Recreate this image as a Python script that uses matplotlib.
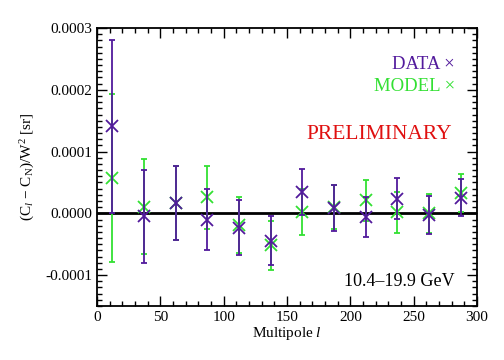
import matplotlib
matplotlib.use("Agg")
import matplotlib.pyplot as plt
from matplotlib.ticker import MultipleLocator, FormatStrFormatter

plt.rcParams['font.family'] = ['Liberation Serif', 'DejaVu Serif']
plt.rcParams['mathtext.fontset'] = 'custom'
plt.rcParams['mathtext.rm'] = 'Liberation Serif'
plt.rcParams['mathtext.it'] = 'Liberation Serif:italic'

# multipole bins
ell = [12, 37, 62, 87, 112, 137, 162, 187, 212, 237, 262, 287]

# data (units of 1e-4 sr)
data_val = [1.41, -0.05, 0.17, -0.10, -0.23, -0.44, 0.35, 0.09, -0.06, 0.24, -0.03, 0.25]
data_err = [1.40, 0.76, 0.60, 0.50, 0.45, 0.40, 0.37, 0.37, 0.33, 0.33, 0.31, 0.30]

# model
model_val = [0.58, 0.11, 0.17, 0.26, -0.19, -0.52, 0.02, 0.10, 0.21, 0.02, 0.00, 0.33]
model_err = [1.36, 0.77, 0.60, 0.51, 0.45, 0.40, 0.37, 0.36, 0.33, 0.33, 0.32, 0.31]

scale = 1e-4
purple = '#521a9c'
green = '#33e033'

fig = plt.figure(figsize=(5.04, 3.6), dpi=100)
ax = fig.add_axes([0.1925, 0.15, 0.754, 0.772])

ax.axhline(0, color='black', lw=2, zorder=1)

ax.errorbar(ell, [v * scale for v in model_val], yerr=[e * scale for e in model_err],
            fmt='x', color=green, ms=9, mew=1.3, elinewidth=1.3, capsize=2.5, capthick=1.3, zorder=2)
ax.errorbar(ell, [v * scale for v in data_val], yerr=[e * scale for e in data_err],
            fmt='x', color=purple, ms=9, mew=1.3, elinewidth=1.3, capsize=2.5, capthick=1.3, zorder=3)

ax.set_xlim(0, 300)
ax.set_ylim(-0.00015, 0.0003)
ax.xaxis.set_major_locator(MultipleLocator(50))
ax.xaxis.set_minor_locator(MultipleLocator(10))
ax.yaxis.set_major_locator(MultipleLocator(0.0001))
ax.yaxis.set_minor_locator(MultipleLocator(0.00001))
ax.yaxis.set_major_formatter(FormatStrFormatter('%.4f'))
ax.tick_params(which='both', direction='in', top=True, right=True, labelsize=11)
ax.tick_params(which='major', length=7, width=1)
ax.tick_params(which='minor', length=3.5, width=1)
for s in ax.spines.values():
    s.set_linewidth(1.3)

ax.set_xlabel('Multipole $\\mathit{l}$', fontsize=11, labelpad=1)
ax.set_ylabel('(C$_{\\mathit{l}}$ $-$ C$_{\\mathrm{N}}$)/W$^2$ [sr]', fontsize=11, labelpad=6)

ax.text(0.942, 0.868, 'DATA \u00d7', color=purple, transform=ax.transAxes, ha='right', va='center', fontsize=13.5)
ax.text(0.942, 0.789, 'MODEL \u00d7', color=green, transform=ax.transAxes, ha='right', va='center', fontsize=13.5)
ax.text(0.935, 0.616, 'PRELIMINARY', color='#e01010', transform=ax.transAxes, ha='right', va='center', fontsize=15.5)
ax.text(0.94, 0.088, '10.4\u201319.9 GeV', color='black', transform=ax.transAxes, ha='right', va='center', fontsize=13)

fig.savefig('out.png', dpi=100)
